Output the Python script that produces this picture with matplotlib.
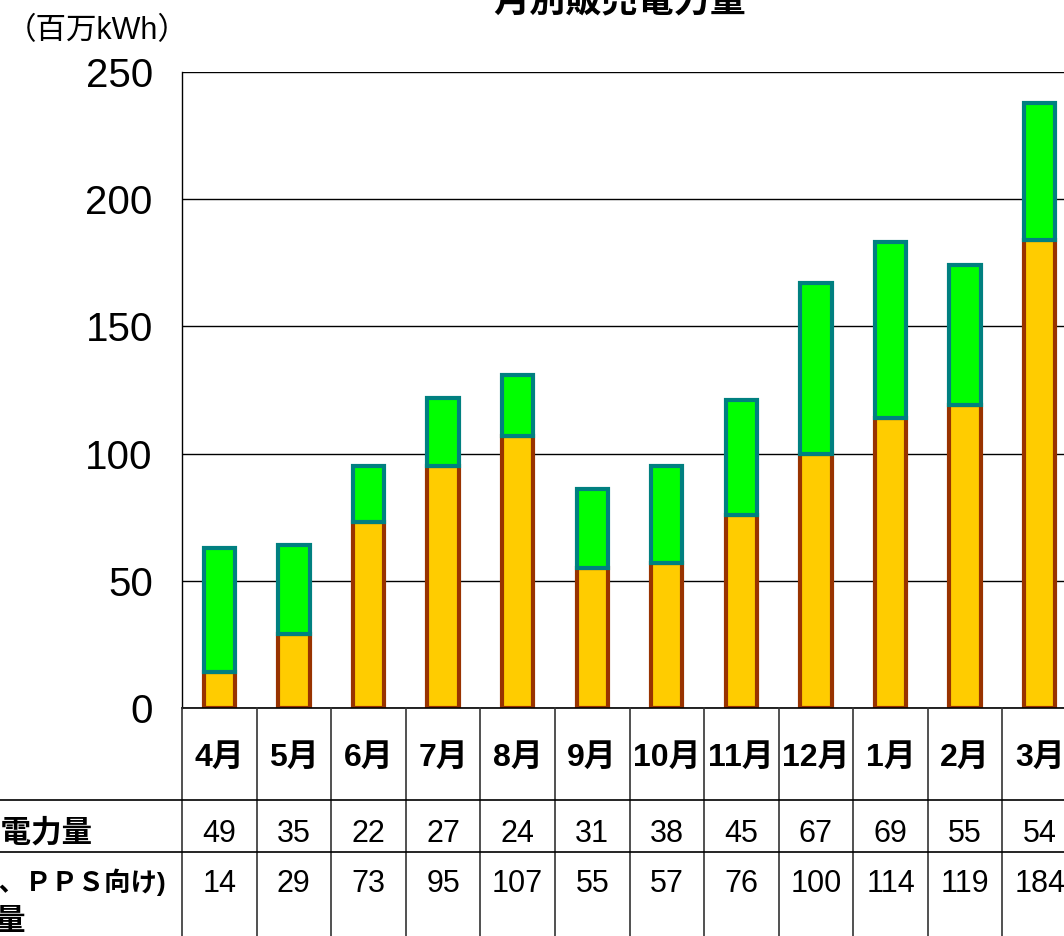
import matplotlib.pyplot as plt

plt.rcParams['font.family'] = ['Liberation Sans', 'Noto Sans CJK JP', 'DejaVu Sans']

months = ['4月', '5月', '6月', '7月', '8月', '9月', '10月', '11月', '12月', '1月', '2月', '3月']
upper = [49, 35, 22, 27, 24, 31, 38, 45, 67, 69, 55, 54]        # green, row 1
lower = [14, 29, 73, 95, 107, 55, 57, 76, 100, 114, 119, 184]   # orange, row 2
yticks = [0, 50, 100, 150, 200, 250]

W, H = 1064, 936
fig = plt.figure(figsize=(W / 100, H / 100), dpi=100)

# chart area (right edge runs off the picture like the reference)
ax = fig.add_axes([182 / W, 1 - 708 / H, (1077 - 182) / W, (708 - 72) / H])
x = list(range(len(months)))
ax.bar(x, lower, width=0.42, color='#FFCC00', edgecolor='#993300', linewidth=3, zorder=2)
ax.bar(x, upper, bottom=lower, width=0.42, color='#00FF00', edgecolor='#008080', linewidth=3, zorder=3)

ax.set_xlim(-0.5, 11.5)
ax.set_ylim(0, 250)
ax.set_xticks([])
ax.set_yticks(yticks)
ax.set_yticklabels([str(v) for v in yticks], fontsize=29)
ax.tick_params(axis='y', length=0, pad=21)
ax.yaxis.grid(True, color='black', linewidth=1)
ax.set_axisbelow(True)
for s in ['top', 'right', 'bottom']:
    ax.spines[s].set_visible(False)
ax.spines['left'].set_color('black')
ax.spines['left'].set_linewidth(1)

# data table under the chart
tab = fig.add_axes([182 / W, 0, (1077 - 182) / W, 228 / H])
tab.set_xlim(-0.5, 11.5)
tab.set_ylim(0, 228)
tab.axis('off')
tab.plot([-0.5, 11.5], [228, 228], color='black', lw=1.2, clip_on=False)
for i in range(len(months) + 1):
    tab.plot([i - 0.5, i - 0.5], [0, 228], color='#333333', lw=1.2, clip_on=False)
for yy in [136, 84]:
    tab.plot([-3, 11.5], [yy, yy], color='black', lw=1.2, clip_on=False)

for i, m in enumerate(months):
    tab.text(i, 178, m, ha='center', va='center', fontsize=23, weight='bold')
    tab.text(i, 102, str(upper[i]), ha='center', va='center', fontsize=22)
    tab.text(i, 52, str(lower[i]), ha='center', va='center', fontsize=22)

# row labels (cut off at the left edge)
fig.text(92 / W, 1 - 834 / H, '卸販売電力量', ha='right', va='center', fontsize=22, weight='bold')
fig.text(166 / W, 1 - 882 / H, '（特定規模需要、ＰＰＳ向け)', ha='right', va='center', fontsize=19, weight='bold')
fig.text(26 / W, 1 - 922 / H, '販売電力量', ha='right', va='center', fontsize=22, weight='bold')

fig.text(620 / W, 1 - 12 / H, '月別販売電力量', ha='center', va='baseline', fontsize=26, weight='bold')
fig.text(6 / W, 1 - 31 / H, '（百万kWh）', ha='left', va='center', fontsize=22)

fig.savefig('out.png', dpi=100)
